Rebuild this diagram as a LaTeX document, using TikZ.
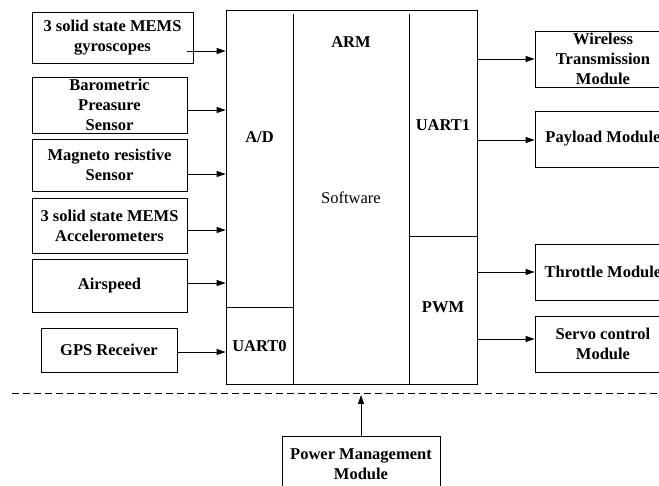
\documentclass[tikz,border=0pt]{standalone}
\usepackage{fontspec}
\setmainfont{Liberation Serif}
\usetikzlibrary{arrows.meta}
\begin{document}
\begin{tikzpicture}[x=1pt,y=-1pt,
  lw/.style={line width=0.8pt},
  blk/.style={draw,lw,inner sep=0pt,align=center,font=\fontsize{16.5}{20}\selectfont\bfseries},
  lbl/.style={inner sep=0pt,align=center,font=\fontsize{16.5}{20}\selectfont\bfseries},
  conn/.style={lw,-{Triangle[length=9pt,width=6pt]}}]
\useasboundingbox (0,0) rectangle (659,486);
\clip (0,0) rectangle (659,486);
% left sensor boxes
\node[blk,minimum width=161,minimum height=51] (gyro) at (112.5,37.5) {3 solid state MEMS\\gyroscopes};
\node[blk,minimum width=155,minimum height=56] (baro) at (109.5,105) {Barometric\\Preasure\\Sensor};
\node[blk,minimum width=155,minimum height=52] (mag) at (109.5,165) {Magneto resistive\\Sensor};
\node[blk,minimum width=155,minimum height=55] (acc) at (109.5,225.5) {3 solid state MEMS\\Accelerometers};
\node[blk,minimum width=155,minimum height=53] (air) at (109.5,285.5) {Airspeed};
\node[blk,minimum width=136,minimum height=44] (gps) at (109,350) {GPS Receiver};
% ARM block
\node[draw,lw,minimum width=251,minimum height=374,inner sep=0pt] (arm) at (351.5,197) {};
\coordinate (d1t) at (293,14);
\coordinate (d1b) at (293,384);
\coordinate (d2t) at (409,14);
\coordinate (d2b) at (409,384);
\draw[lw] (d1t) -- (d1b);
\draw[lw] (d2t) -- (d2b);
\coordinate (h1a) at (226,307);
\coordinate (h1b) at (293,307);
\coordinate (h2a) at (409,236);
\coordinate (h2b) at (477,236);
\draw[lw] (h1a) -- (h1b);
\draw[lw] (h2a) -- (h2b);
\node[lbl] (armt) at (351,42) {ARM};
\node[inner sep=0pt,font=\fontsize{16.5}{20}\selectfont] (soft) at (351,198) {Software};
\node[lbl] (ad) at (259.5,137) {A/D};
\node[lbl] (u0) at (259.5,346) {UART0};
\node[lbl] (u1) at (443,125) {UART1};
\node[lbl] (pwm) at (443,307) {PWM};
% right modules
\node[blk,minimum width=136,minimum height=56] (wir) at (603,59) {Wireless\\Transmission\\Module};
\node[blk,minimum width=136,minimum height=56] (pay) at (603,139) {Payload Module};
\node[blk,minimum width=136,minimum height=56] (thr) at (603,272) {Throttle Module};
\node[blk,minimum width=136,minimum height=56] (ser) at (603,344) {Servo control\\Module};
% power
\node[blk,minimum width=158,minimum height=56] (pow) at (361,464) {Power Management\\Module};
% left arrows
\coordinate (s1) at (187,51);
\draw[conn] (s1) -- (arm.west |- s1);
\draw[conn] (baro.east |- 0,110) -- (arm.west |- 0,110);
\draw[conn] (mag.east |- 0,174) -- (arm.west |- 0,174);
\draw[conn] (acc.east |- 0,230) -- (arm.west |- 0,230);
\draw[conn] (air.east |- 0,283) -- (arm.west |- 0,283);
\draw[conn] (gps.east |- 0,352) -- (arm.west |- 0,352);
% right arrows
\draw[conn] (arm.east |- 0,59) -- (wir.west |- 0,59);
\draw[conn] (arm.east |- 0,140) -- (pay.west |- 0,140);
\draw[conn] (arm.east |- 0,272) -- (thr.west |- 0,272);
\draw[conn] (arm.east |- 0,339) -- (ser.west |- 0,339);
% dashed line and power arrow
\coordinate (dl) at (12,393);
\coordinate (dr) at (659,393);
\draw[lw,dash pattern=on 7pt off 4pt] (dl) -- (dr);
\coordinate (pt) at (361,395);
\draw[conn] (pow.north) -- (pt);
\end{tikzpicture}
\end{document}
